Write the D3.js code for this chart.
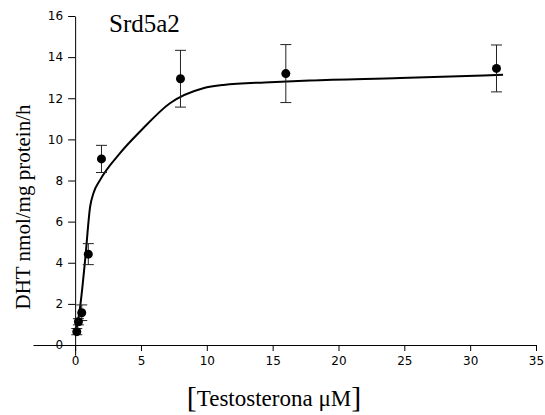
<!DOCTYPE html>
<html>
<head>
<meta charset="utf-8">
<script src="https://cdn.jsdelivr.net/npm/d3@7/dist/d3.min.js"></script>
<style>
  html, body { margin: 0; padding: 0; background: #fff; }
  svg { display: block; }
</style>
</head>
<body>
<svg id="chart" width="545" height="415"></svg>
<script>
// ---- data ----
const concentrations = [0.125, 0.25, 0.5, 1, 2, 8, 16, 32];
const dhtMeans = [0.65, 1.13, 1.57, 4.42, 9.05, 12.95, 13.2, 13.45];
const dhtErrors = [0.15, 0.15, 0.38, 0.51, 0.66, 1.38, 1.41, 1.14];
const fitX = [0.125, 0.38, 0.76, 1.14, 1.39, 1.9, 3.41, 4.93, 7.2, 9.73, 11.25, 14.8, 17.8, 24.7, 32.5];
const fitY = [0.85, 1.86, 4.14, 6.73, 7.38, 8.03, 9.33, 10.38, 11.76, 12.49, 12.65, 12.78, 12.86, 12.98, 13.14];
const xTicks = [0, 5, 10, 15, 20, 25, 30, 35];
const yTicks = [0, 2, 4, 6, 8, 10, 12, 14, 16];
const titleText = "Srd5a2";
const yLabel = "DHT nmol/mg protein/h";
const xLabel = "Testosterona \u03BCM";

// ---- chart ----
const svg = d3.select("#chart");
svg.append("rect").attr("width", 545).attr("height", 415).attr("fill", "#fff");

const x = d3.scaleLinear().domain([-3.2, 35]).range([33, 536]);
const y = d3.scaleLinear().domain([-0.5, 16]).range([355.3, 16]);

const tickFont = "'DejaVu Sans', sans-serif";
const serif = "'Liberation Serif', 'Times New Roman', serif";

// x axis (crosses at y = 0)
const xAxis = svg.append("g")
  .attr("transform", `translate(0,${y(0)})`)
  .call(d3.axisBottom(x).tickValues(xTicks).tickSize(6).tickSizeOuter(0).tickPadding(5));
xAxis.selectAll("text").attr("font-family", tickFont).attr("font-size", 12).attr("fill", "#000");

// y axis (crosses at x = 0)
const yAxis = svg.append("g")
  .attr("transform", `translate(${x(0)},0)`)
  .call(d3.axisLeft(y).tickValues(yTicks).tickSize(7).tickSizeOuter(0).tickPadding(5));
yAxis.selectAll("text").attr("font-family", tickFont).attr("font-size", 12).attr("fill", "#000");

svg.selectAll(".domain, .tick line").attr("stroke", "#000").attr("stroke-width", 1);

// fitted curve
const line = d3.line()
  .x((d, i) => x(fitX[i]))
  .y((d, i) => y(fitY[i]))
  .curve(d3.curveMonotoneX);
svg.append("path")
  .attr("d", line(fitX))
  .attr("fill", "none")
  .attr("stroke", "#000")
  .attr("stroke-width", 2);

// error bars
const capHalf = 5.5;
const eb = svg.append("g").attr("stroke", "#222").attr("stroke-width", 1);
concentrations.forEach((c, i) => {
  const cx = x(c), top = y(dhtMeans[i] + dhtErrors[i]), bot = y(dhtMeans[i] - dhtErrors[i]);
  eb.append("line").attr("x1", cx).attr("x2", cx).attr("y1", top).attr("y2", bot);
  eb.append("line").attr("x1", cx - capHalf).attr("x2", cx + capHalf).attr("y1", top).attr("y2", top);
  eb.append("line").attr("x1", cx - capHalf).attr("x2", cx + capHalf).attr("y1", bot).attr("y2", bot);
});

// points
svg.append("g").selectAll("circle")
  .data(concentrations)
  .join("circle")
  .attr("cx", d => x(d))
  .attr("cy", (d, i) => y(dhtMeans[i]))
  .attr("r", 4.5)
  .attr("fill", "#000");

// title
svg.append("text")
  .attr("x", 109).attr("y", 32)
  .attr("font-family", serif).attr("font-size", 25)
  .attr("fill", "#000")
  .text(titleText);

// y label
svg.append("text")
  .attr("transform", `translate(30,207) rotate(-90)`)
  .attr("text-anchor", "middle")
  .attr("font-family", serif).attr("font-size", 21)
  .attr("fill", "#000")
  .text(yLabel);

// x label with brackets
const xl = svg.append("text")
  .attr("x", 274).attr("y", 407)
  .attr("text-anchor", "middle")
  .attr("font-family", serif)
  .attr("fill", "#000");
xl.append("tspan").attr("font-size", 30).text("[");
xl.append("tspan").attr("font-size", 23).attr("dy", -1).text(xLabel);
xl.append("tspan").attr("font-size", 30).attr("dy", 1).text("]");
</script>
</body>
</html>
